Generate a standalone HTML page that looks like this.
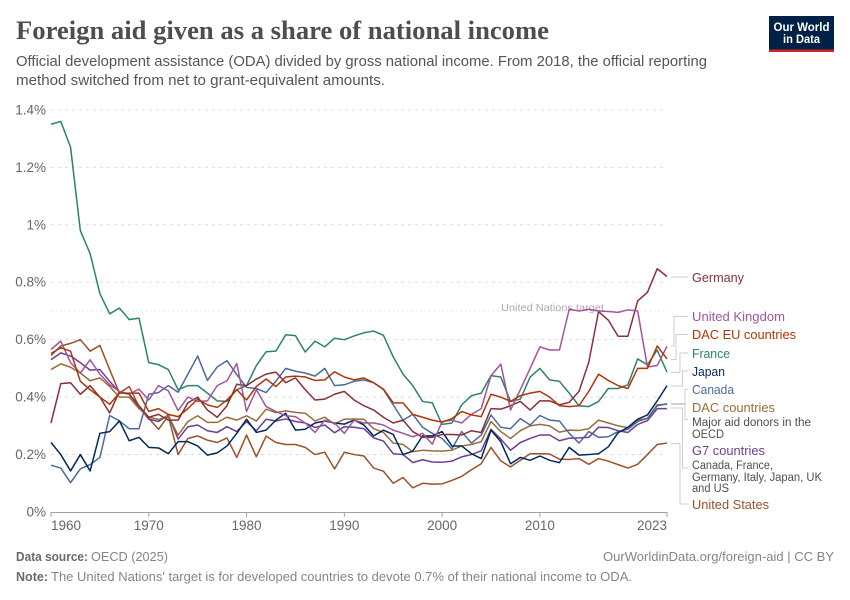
<!DOCTYPE html>
<html lang="en">
<head>
<meta charset="utf-8">
<title>Foreign aid given as a share of national income</title>
<style>
html,body{margin:0;padding:0;background:#fff;width:850px;height:600px;overflow:hidden}
svg{display:block}
text{font-family:"Liberation Sans",sans-serif}
.title{font-family:"Liberation Serif",serif;font-weight:700;font-size:26px;fill:#4e4e4e}
.sub{font-size:14.5px;fill:#555}
.tick{font-size:13.5px;fill:#666}
.lab{font-size:13px}
.desc{font-size:11.5px;fill:#4e4e4e}
.foot{font-size:13px;fill:#858585}
.footb{font-size:13px;fill:#6a6a6a;font-weight:700}
.conn{fill:none;stroke:#cfcfcf;stroke-width:1}
</style>
</head>
<body>
<svg id="chart" xmlns="http://www.w3.org/2000/svg" width="850" height="600" viewBox="0 0 850 600">
<text class="title" x="16" y="39" textLength="533" lengthAdjust="spacingAndGlyphs">Foreign aid given as a share of national income</text>
<text class="sub" x="16" y="66" textLength="691" lengthAdjust="spacingAndGlyphs">Official development assistance (ODA) divided by gross national income. From 2018, the official reporting</text>
<text class="sub" x="16" y="85" textLength="369" lengthAdjust="spacingAndGlyphs">method switched from net to grant-equivalent amounts.</text>

<g>
<rect x="769" y="16" width="65" height="36" fill="#002147"/>
<rect x="769" y="49.5" width="65" height="2.5" fill="#ce261e"/>
<text x="801.5" y="31" text-anchor="middle" font-size="11.5" font-weight="700" fill="#fff" textLength="56" lengthAdjust="spacingAndGlyphs">Our World</text>
<text x="801.5" y="43" text-anchor="middle" font-size="11.5" font-weight="700" fill="#fff" textLength="37" lengthAdjust="spacingAndGlyphs">in Data</text>
</g>

<g id="grid"></g>
<g id="ylabels"></g>
<g id="xaxis"></g>

<line x1="51" x2="667" y1="311" y2="311" stroke="#ddd" stroke-width="1" stroke-dasharray="1.5,3"/>
<text x="501" y="311" font-size="10.5" fill="#aaa" textLength="103" lengthAdjust="spacingAndGlyphs">United Nations target</text>

<g id="series"></g>

<g>
<path class="conn" d="M671 277H688"/>
<path class="conn" d="M671 346H674V316.500H688"/>
<path class="conn" d="M671 359.500H676V334.500H688"/>
<path class="conn" d="M671 372.500H680V353H688"/>
<path class="conn" d="M671 386H682.500V371H688"/>
<path class="conn" d="M671 403.500H685V389.500H688"/>
<path class="conn" d="M671 404.500H685V419.500H688"/>
<path class="conn" d="M671 408H682.500V468H688"/>
<path class="conn" d="M671 443.500H680V504H688"/>
</g>

<g>
<text class="lab" x="692" y="282" fill="#883039" textLength="52" lengthAdjust="spacingAndGlyphs">Germany</text>
<text class="lab" x="692" y="321" fill="#a2559c" textLength="93" lengthAdjust="spacingAndGlyphs">United Kingdom</text>
<text class="lab" x="692" y="339" fill="#b13507" textLength="104" lengthAdjust="spacingAndGlyphs">DAC EU countries</text>
<text class="lab" x="692" y="358" fill="#2c8465" textLength="38" lengthAdjust="spacingAndGlyphs">France</text>
<text class="lab" x="692" y="376" fill="#00295b" textLength="33" lengthAdjust="spacingAndGlyphs">Japan</text>
<text class="lab" x="692" y="394" fill="#4c6a9c" textLength="42" lengthAdjust="spacingAndGlyphs">Canada</text>
<text class="lab" x="692" y="412" fill="#996d39" textLength="83" lengthAdjust="spacingAndGlyphs">DAC countries</text>
<text class="desc" x="692" y="426" textLength="119" lengthAdjust="spacingAndGlyphs">Major aid donors in the</text>
<text class="desc" x="692" y="438" textLength="32" lengthAdjust="spacingAndGlyphs">OECD</text>
<text class="lab" x="692" y="455" fill="#6d3e91" textLength="73" lengthAdjust="spacingAndGlyphs">G7 countries</text>
<text class="desc" x="692" y="469" textLength="81" lengthAdjust="spacingAndGlyphs">Canada, France,</text>
<text class="desc" x="692" y="481" textLength="130" lengthAdjust="spacingAndGlyphs">Germany, Italy, Japan, UK</text>
<text class="desc" x="692" y="492" textLength="37" lengthAdjust="spacingAndGlyphs">and US</text>
<text class="lab" x="692" y="509" fill="#9a5129" textLength="77" lengthAdjust="spacingAndGlyphs">United States</text>
</g>

<text class="footb" x="16" y="561" textLength="72" lengthAdjust="spacingAndGlyphs">Data source:</text>
<text class="foot" x="91" y="561" textLength="77" lengthAdjust="spacingAndGlyphs">OECD (2025)</text>
<text class="foot" x="603" y="561" textLength="231" lengthAdjust="spacingAndGlyphs">OurWorldinData.org/foreign-aid | CC BY</text>
<text class="footb" x="16" y="581" textLength="32" lengthAdjust="spacingAndGlyphs">Note:</text>
<text class="foot" x="51" y="581" textLength="581" lengthAdjust="spacingAndGlyphs">The United Nations' target is for developed countries to devote 0.7% of their national income to ODA.</text>
</svg>

<script>
var startYear = 1960;
var yTickValues = [0, 0.2, 0.4, 0.6, 0.8, 1, 1.2, 1.4];
var yTickLabels = ["0%", "0.2%", "0.4%", "0.6%", "0.8%", "1%", "1.2%", "1.4%"];
var xTickYears = [1960, 1970, 1980, 1990, 2000, 2010, 2023];

var germany = [.31,.447,.45,.41,.44,.40,.345,.42,.41,.37,
 .33,.34,.32,.32,.38,.40,.355,.33,.37,.445,
 .44,.463,.48,.487,.45,.467,.426,.39,.393,.41,
 .42,.39,.37,.355,.33,.31,.32,.28,.26,.26,
 .27,.27,.268,.283,.277,.36,.358,.37,.385,.355,
 .387,.387,.373,.382,.42,.522,.698,.668,.612,.612,
 .735,.765,.847,.82];
var unitedKingdom = [.566,.595,.52,.484,.53,.48,.443,.42,.41,.428,
 .39,.44,.422,.353,.40,.385,.387,.44,.457,.517,
 .35,.426,.367,.35,.335,.332,.31,.277,.32,.31,
 .274,.32,.31,.31,.303,.285,.274,.262,.274,.236,
 .315,.32,.31,.34,.36,.475,.515,.355,.426,.50,
 .575,.564,.564,.706,.70,.706,.70,.698,.695,.704,
 .70,.505,.51,.577];
var dacEu = [.552,.572,.56,.455,.426,.40,.375,.414,.414,.414,
 .35,.36,.34,.332,.36,.393,.373,.364,.39,.426,
 .39,.437,.463,.437,.47,.473,.47,.458,.46,.488,
 .47,.46,.467,.45,.428,.38,.38,.34,.33,.32,
 .313,.325,.35,.338,.332,.41,.40,.385,.405,.414,
 .42,.40,.37,.367,.37,.42,.48,.458,.44,.43,
 .50,.50,.578,.533];
var france = [1.35,1.36,1.27,.98,.90,.76,.69,.71,.67,.675,
 .52,.513,.496,.426,.44,.44,.414,.387,.385,.426,
 .44,.51,.558,.56,.617,.614,.557,.595,.575,.605,
 .60,.613,.624,.63,.615,.54,.48,.44,.385,.38,
 .305,.31,.373,.405,.414,.475,.47,.385,.393,.47,
 .50,.46,.455,.414,.37,.367,.385,.43,.43,.443,
 .533,.513,.564,.487];
var japan = [.242,.20,.143,.20,.143,.274,.28,.317,.248,.26,
 .225,.223,.203,.245,.245,.23,.198,.206,.23,.274,
 .323,.277,.285,.32,.344,.285,.288,.31,.317,.31,
 .306,.32,.303,.265,.285,.27,.20,.212,.265,.265,
 .28,.23,.23,.203,.186,.285,.245,.168,.19,.18,
 .195,.18,.172,.225,.198,.20,.203,.227,.276,.295,
 .323,.338,.387,.44];
var canada = [.163,.153,.102,.15,.165,.19,.336,.317,.29,.29,
 .41,.416,.44,.417,.48,.543,.458,.505,.527,.478,
 .434,.43,.416,.455,.50,.49,.484,.473,.50,.44,
 .443,.455,.46,.45,.426,.373,.32,.34,.295,.274,
 .256,.22,.28,.24,.268,.338,.295,.29,.325,.303,
 .336,.32,.317,.274,.24,.28,.26,.262,.28,.288,
 .315,.326,.37,.377];
var dacCountries = [.496,.516,.504,.484,.457,.467,.437,.40,.40,.36,
 .33,.322,.335,.268,.315,.335,.312,.312,.33,.32,
 .335,.317,.358,.346,.352,.347,.344,.317,.33,.306,
 .323,.324,.323,.29,.277,.24,.235,.21,.215,.213,
 .212,.215,.23,.235,.245,.315,.28,.256,.283,.30,
 .305,.30,.278,.285,.284,.29,.32,.31,.30,.294,
 .32,.326,.373,.375];
var g7Countries = [.53,.554,.543,.52,.494,.496,.455,.417,.41,.367,
 .323,.315,.338,.254,.297,.303,.283,.277,.297,.28,
 .315,.283,.323,.317,.324,.315,.31,.294,.303,.276,
 .297,.295,.29,.258,.247,.203,.20,.172,.182,.174,
 .173,.177,.192,.20,.213,.288,.254,.215,.242,.256,
 .268,.268,.248,.257,.258,.26,.295,.294,.283,.277,
 .305,.318,.36,.36];
var unitedStates = [.545,.578,.587,.60,.56,.58,.496,.414,.437,.367,
 .326,.288,.335,.20,.256,.265,.25,.242,.258,.19,
 .268,.192,.264,.242,.235,.235,.225,.20,.208,.15,
 .208,.20,.195,.153,.142,.10,.12,.084,.10,.097,
 .098,.11,.124,.147,.168,.225,.178,.157,.18,.203,
 .203,.202,.184,.183,.186,.166,.186,.177,.165,.153,
 .166,.20,.235,.24];

function xScale(year) { return 51 + (year - 1960) * (667 - 51) / 63; }
function yScale(value) { return 512 - value * 287.2; }

var NS = "http://www.w3.org/2000/svg";
var gridGroup = document.getElementById("grid");
var yGroup = document.getElementById("ylabels");
var xGroup = document.getElementById("xaxis");
var seriesGroup = document.getElementById("series");

yTickValues.forEach(function (v, i) {
  if (v > 0) {
    var gl = document.createElementNS(NS, "line");
    
    
    gl.setAttribute("x1", 51);
    gl.setAttribute("x2", 667);
    gl.setAttribute("y1", yScale(v));
    gl.setAttribute("y2", yScale(v));
    gl.setAttribute("stroke", "#dddddd");
    gl.setAttribute("stroke-dasharray", "3,4");
    gridGroup.appendChild(gl);
  }
  var t = document.createElementNS(NS, "text");
  
  
  t.setAttribute("class", "tick");
  t.setAttribute("x", 46);
  t.setAttribute("y", yScale(v) + 4.5);
  t.setAttribute("text-anchor", "end");
  t.textContent = yTickLabels[i];
  yGroup.appendChild(t);
});

var axisLine = document.createElementNS(NS, "line");


axisLine.setAttribute("x1", 51);
axisLine.setAttribute("x2", 667);
axisLine.setAttribute("y1", 512.5);
axisLine.setAttribute("y2", 512.5);
axisLine.setAttribute("stroke", "#a1a1a1");
xGroup.appendChild(axisLine);

xTickYears.forEach(function (yr, i) {
  var tk = document.createElementNS(NS, "line");
  
  
  tk.setAttribute("x1", xScale(yr));
  tk.setAttribute("x2", xScale(yr));
  tk.setAttribute("y1", 512);
  tk.setAttribute("y2", 517);
  tk.setAttribute("stroke", "#a1a1a1");
  xGroup.appendChild(tk);
  var t = document.createElementNS(NS, "text");
  
  
  t.setAttribute("class", "tick");
  var anchor = i === 0 ? "start" : (i === xTickYears.length - 1 ? "end" : "middle");
  t.setAttribute("text-anchor", anchor);
  t.setAttribute("x", xScale(yr));
  t.setAttribute("y", 530);
  t.textContent = String(yr);
  xGroup.appendChild(t);
});

function drawSeries(values, color, name) {
  var pts = values.map(function (v, i) {
    return xScale(startYear + i).toFixed(2) + "," + yScale(v).toFixed(2);
  }).join(" ");
  var pl = document.createElementNS(NS, "polyline");
  
  
  pl.setAttribute("points", pts);
  pl.setAttribute("fill", "none");
  pl.setAttribute("stroke", color);
  pl.setAttribute("stroke-width", "1.5");
  pl.setAttribute("stroke-linejoin", "round");
  seriesGroup.appendChild(pl);
}

drawSeries(unitedStates, "#9a5129", "line-united-states");
drawSeries(g7Countries, "#6d3e91", "line-g7-countries");
drawSeries(dacCountries, "#996d39", "line-dac-countries");
drawSeries(canada, "#4c6a9c", "line-canada");
drawSeries(japan, "#00295b", "line-japan");
drawSeries(france, "#2c8465", "line-france");
drawSeries(germany, "#883039", "line-germany");
drawSeries(unitedKingdom, "#a2559c", "line-united-kingdom");
drawSeries(dacEu, "#b13507", "line-dac-eu-countries");
</script>
</body>
</html>
